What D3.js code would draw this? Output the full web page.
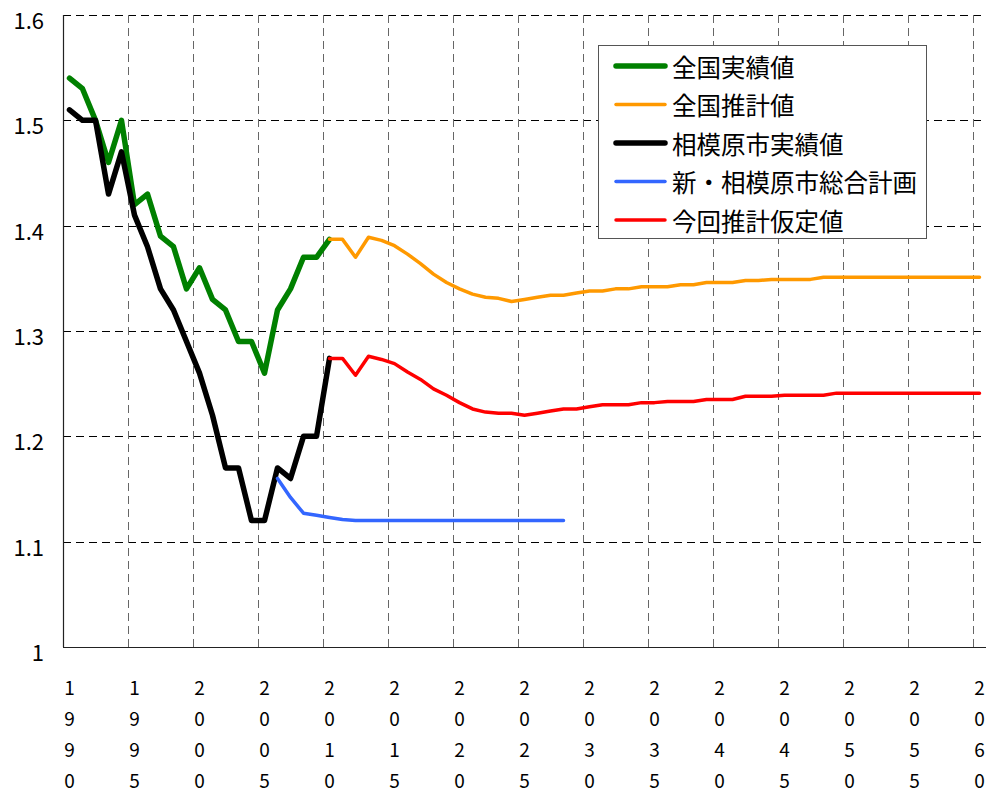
<!DOCTYPE html>
<html><head><meta charset="utf-8">
<script src="https://cdn.jsdelivr.net/npm/d3@7"></script>
<style>
html,body{margin:0;padding:0;background:#fff;}
svg{display:block;font-family:"Noto Sans CJK JP","Noto Sans",sans-serif;}
</style></head>
<body>
<svg id="chart" width="991" height="793"></svg>
<script>
// ---- data ----
const years = d3.range(1990, 2061);
const xTickYears = [1990,1995,2000,2005,2010,2015,2020,2025,2030,2035,2040,2045,2050,2055,2060];
const yTicks = [1, 1.1, 1.2, 1.3, 1.4, 1.5, 1.6];
const yTickLabels = ["1", "1.1", "1.2", "1.3", "1.4", "1.5", "1.6"];

const nationalActualStart = 1990;
const nationalActual = [1.54,1.53,1.50,1.46,1.50,1.42,1.43,1.39,1.38,1.34,1.36,1.33,1.32,1.29,1.29,1.26,1.32,1.34,1.37,1.37,1.387];

const nationalProjStart = 2010;
const nationalProj = [1.387,1.387,1.370,1.389,1.386,1.381,1.373,1.364,1.354,1.346,
  1.340,1.335,1.332,1.331,1.328,1.330,1.332,1.334,1.334,1.336,
  1.338,1.338,1.340,1.340,1.342,1.342,1.342,1.344,1.344,1.346,
  1.346,1.346,1.348,1.348,1.349,1.349,1.349,1.349,1.351,1.351,
  1.351,1.351,1.351,1.351,1.351,1.351,1.351,1.351,1.351,1.351,1.351];

const cityActualStart = 1990;
const cityActual = [1.51,1.50,1.50,1.43,1.47,1.41,1.38,1.34,1.32,1.29,1.26,1.22,1.17,1.17,1.12,1.12,1.17,1.16,1.20,1.20,1.274];

const cityPlanStart = 2006;
const cityPlan = [1.160,1.142,1.127,1.125,1.123,1.121,1.120,1.120,1.120,1.120,1.120,1.120,
  1.120,1.120,1.120,1.120,1.120,1.120,1.120,1.120,1.120,1.120,1.120];

const newProjStart = 2010;
const newProj = [1.274,1.274,1.258,1.276,1.273,1.269,1.261,1.254,1.245,1.239,
  1.232,1.226,1.223,1.222,1.222,1.220,1.222,1.224,1.226,1.226,
  1.228,1.230,1.230,1.230,1.232,1.232,1.233,1.233,1.233,1.235,
  1.235,1.235,1.238,1.238,1.238,1.239,1.239,1.239,1.239,1.241,
  1.241,1.241,1.241,1.241,1.241,1.241,1.241,1.241,1.241,1.241,1.241];

const seriesNames = ["全国実績値","全国推計値","相模原市実績値","新・相模原市総合計画","今回推計仮定値"];
const seriesColors = ["#008000","#FF9900","#000000","#3366FF","#FF0000"];
const seriesWidths = [5.5, 3.5, 5.5, 3.5, 3.5];

// ---- layout ----
const svg = d3.select("#chart");
const L = 63, R = 986, T = 15, B = 647;

const x = d3.scaleBand().domain(years).range([L, R]).paddingInner(0).paddingOuter(0);
const bw = x.bandwidth();
const cx = yr => x(yr) + bw / 2;
const y = d3.scaleLinear().domain([1, 1.6]).range([B, T]);

// horizontal grid
svg.append("g").selectAll("line").data(yTicks.filter(d => d > 1)).join("line")
  .attr("x1", L).attr("x2", R)
  .attr("y1", d => Math.round(y(d)) + 0.5).attr("y2", d => Math.round(y(d)) + 0.5)
  .attr("stroke", "#000").attr("stroke-width", 1).attr("stroke-dasharray", "8,5");

// vertical grid
svg.append("g").selectAll("line").data(xTickYears.filter(d => d > 1990)).join("line")
  .attr("x1", d => Math.round(x(d)) + 0.5).attr("x2", d => Math.round(x(d)) + 0.5)
  .attr("y1", T).attr("y2", B)
  .attr("stroke", "#666").attr("stroke-width", 1).attr("stroke-dasharray", "8,5");

// axes lines
svg.append("line").attr("x1", L + 0.5).attr("x2", L + 0.5).attr("y1", T).attr("y2", B)
  .attr("stroke", "#222").attr("stroke-width", 1.2);
svg.append("line").attr("x1", L).attr("x2", R).attr("y1", B + 0.5).attr("y2", B + 0.5)
  .attr("stroke", "#222").attr("stroke-width", 1.2);

// y tick labels
svg.append("g").selectAll("text").data(yTicks).join("text")
  .attr("x", 44).attr("y", d => y(d) + 4)
  .attr("text-anchor", "end").attr("dominant-baseline", "central")
  .attr("font-size", 22).attr("fill", "#000")
  .text((d, i) => yTickLabels[i]);

// x tick labels (stacked characters)
const xl = svg.append("g").selectAll("text").data(xTickYears).join("text")
  .attr("text-anchor", "middle").attr("font-size", 19).attr("fill", "#000");
xl.each(function(d) {
  const chars = String(d).split("");
  d3.select(this).selectAll("tspan").data(chars).join("tspan")
    .attr("x", cx(d)).attr("y", (c, i) => 686 + i * 31)
    .attr("dominant-baseline", "central")
    .text(c => c);
});

// lines
const allSeries = [
  {start: nationalActualStart, vals: nationalActual},
  {start: nationalProjStart, vals: nationalProj},
  {start: cityActualStart, vals: cityActual},
  {start: cityPlanStart, vals: cityPlan},
  {start: newProjStart, vals: newProj}
];
const drawOrder = [0, 2, 3, 1, 4];
const line = d3.line().x(d => cx(d[0])).y(d => y(d[1]));
drawOrder.forEach(i => {
  const s = allSeries[i];
  const pts = s.vals.map((v, k) => [s.start + k, v]);
  svg.append("path").datum(pts).attr("d", line)
    .attr("fill", "none").attr("stroke", seriesColors[i])
    .attr("stroke-width", seriesWidths[i])
    .attr("stroke-linejoin", "round").attr("stroke-linecap", "round");
});

// legend
const lg = svg.append("g");
lg.append("rect").attr("x", 598.5).attr("y", 45.5).attr("width", 328).attr("height", 193)
  .attr("fill", "#fff").attr("stroke", "#555").attr("stroke-width", 1);
seriesNames.forEach((nm, i) => {
  const ry = 66 + i * 38.5;
  lg.append("line").attr("x1", 616).attr("x2", 665).attr("y1", ry).attr("y2", ry)
    .attr("stroke", seriesColors[i]).attr("stroke-width", seriesWidths[i])
    .attr("stroke-linecap", "round");
  lg.append("text").attr("x", 672).attr("y", ry)
    .attr("dominant-baseline", "central").attr("font-size", 24.5).attr("fill", "#000")
    .text(nm);
});
</script>
</body></html>
